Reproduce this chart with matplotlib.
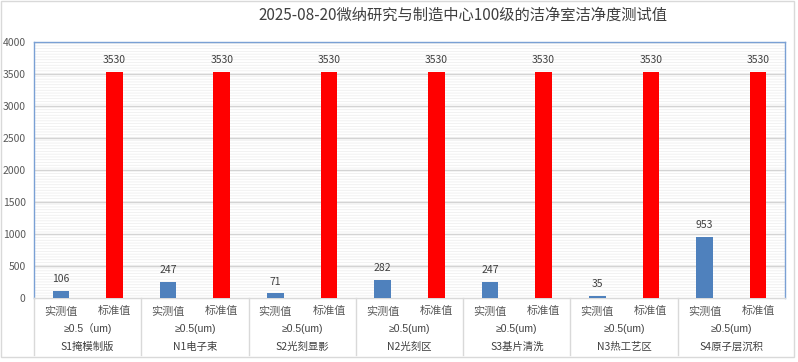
import matplotlib
matplotlib.use("Agg")
import matplotlib.pyplot as plt
from matplotlib.patches import Rectangle
from matplotlib.lines import Line2D
import numpy as np

plt.rcParams['font.family'] = ['Noto Sans CJK SC', 'DejaVu Sans']

title = "2025-08-20微纳研究与制造中心100级的洁净室洁净度测试值"
groups = ["S1掩模制版", "N1电子束", "S2光刻显影", "N2光刻区", "S3基片清洗", "N3热工艺区", "S4原子层沉积"]
sizes = ["≥0.5（um)", "≥0.5(um)", "≥0.5(um)", "≥0.5(um)", "≥0.5(um)", "≥0.5(um)", "≥0.5(um)"]
sub_labels = ["实测值", "标准值"]
measured = [106, 247, 71, 282, 247, 35, 953]
standard = [3530, 3530, 3530, 3530, 3530, 3530, 3530]
yticks = [0, 500, 1000, 1500, 2000, 2500, 3000, 3500, 4000]

W, H = 798, 362
fig = plt.figure(figsize=(W / 100, H / 100), dpi=100)
L, R, T, B = 34, 785, 42, 298
ax = fig.add_axes([L / W, 1 - B / H, (R - L) / W, (B - T) / H])

n = len(groups)
xm = np.arange(n) * 2 + 0.5
xs = np.arange(n) * 2 + 1.5
bw = 0.31

# striped background
plt.rcParams['hatch.linewidth'] = 0.5
bg = Rectangle((0, 0), 1, 1, transform=ax.transAxes, facecolor='white',
               edgecolor='#ededed', hatch='------', linewidth=0, zorder=0)
ax.add_patch(bg)
ax.set_facecolor('white')

for y in yticks[1:]:
    ax.axhline(y, color='#d4d4d4', lw=1.0, zorder=1)

ax.bar(xm, measured, width=bw, color='#4f81bd', zorder=3)
ax.bar(xs, standard, width=bw, color='#ff0000', zorder=3)

for x, v in zip(xm, measured):
    ax.annotate(str(v), (x, v), xytext=(0, 5), textcoords='offset points',
                ha='center', va='bottom', fontsize=7.5, color='#404040')
for x, v in zip(xs, standard):
    ax.annotate(str(v), (x, v), xytext=(0, 5), textcoords='offset points',
                ha='center', va='bottom', fontsize=7.5, color='#404040')

ax.set_xlim(0, 2 * n)
ax.set_ylim(0, 4000)
ax.set_yticks(yticks)
ax.set_yticklabels([str(v) for v in yticks], fontsize=7.5, color='#595959')
ax.tick_params(axis='y', length=0, pad=6)

xt = np.sort(np.concatenate([xm, xs]))
ax.set_xticks(xt)
ax.set_xticklabels(sub_labels * n, fontsize=8, color='#595959')
ax.tick_params(axis='x', length=0, pad=6)

for s in ['left', 'top', 'right']:
    ax.spines[s].set_color('#7aa0d4')
    ax.spines[s].set_linewidth(1.0)
ax.spines['bottom'].set_color('#d9d9d9')
ax.spines['bottom'].set_linewidth(1.0)

for i in range(n):
    cx = 2 * i + 1
    fig.text((L + (cx / (2 * n)) * (R - L)) / W, 1 - 329 / H, sizes[i],
             ha='center', va='center', fontsize=7.5, color='#404040',
             family=['Liberation Sans', 'Noto Sans CJK SC'])
    fig.text((L + (cx / (2 * n)) * (R - L)) / W, 1 - 347 / H, groups[i],
             ha='center', va='center', fontsize=7.5, color='#404040')

for i in range(n):
    xx = (L + (2 * i / (2 * n)) * (R - L)) / W
    fig.add_artist(Line2D([xx, xx], [1 - B / H, 1 - 355 / H], color='#d9d9d9', lw=1.0))

fig.text(463 / W, 1 - 15 / H, title, ha='center', va='center', fontsize=11, color='#404040')

fig.add_artist(Rectangle((1 / W, 1 - 357 / H), 793 / W, 356 / H, transform=fig.transFigure,
                         fill=False, edgecolor='#d9d9d9', lw=1.0))

fig.savefig("out.png", dpi=100)
